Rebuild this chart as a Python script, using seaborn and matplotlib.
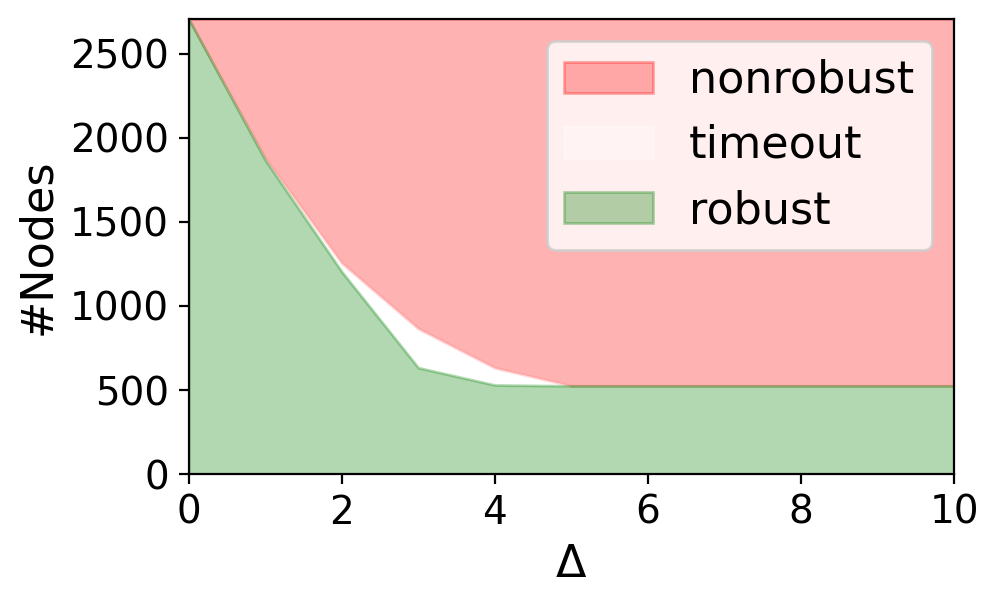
import matplotlib
matplotlib.use('Agg')
import matplotlib.pyplot as plt
import seaborn as sns
import numpy as np

# values
delta = [0, 1, 2, 3, 4, 5, 6, 7, 8, 9, 10]
robust = [2708, 1868, 1204, 633, 530, 525, 525, 525, 525, 525, 525]
timeout = [0, 12, 51, 232, 102, 0, 0, 0, 0, 0, 0]
nonrobust = [0, 828, 1453, 1843, 2076, 2183, 2183, 2183, 2183, 2183, 2183]
labels = ["robust", "timeout", "nonrobust"]
colors = ["green", "white", "red"]

sns.set_style("ticks", rc={
    "patch.force_edgecolor": False,
    "text.color": "black",
    "axes.labelcolor": "black",
    "xtick.color": "black",
    "ytick.color": "black",
    "axes.edgecolor": "black",
})
plt.rcParams["font.family"] = ["DejaVu Sans"]

fig, ax = plt.subplots(figsize=(4.99, 3.02), dpi=200)
fig.subplots_adjust(left=0.189, right=0.956, top=0.969, bottom=0.215)

polys = ax.stackplot(delta, robust, timeout, nonrobust, labels=labels,
                     colors=colors, alpha=0.3)
for z, (p, c) in enumerate(zip(polys, colors)):
    p.set_edgecolor(c)
    p.set_linewidth(1.0)
    p.set_zorder(3 - z)

ax.set_xlim(0, 10)
ax.set_ylim(0, sum(x[0] for x in (robust, timeout, nonrobust)))
ax.set_xticks([0, 2, 4, 6, 8, 10])
ax.set_yticks([0, 500, 1000, 1500, 2000, 2500])
ax.tick_params(labelsize=14, direction="out", length=3.5, width=0.8)
for s in ax.spines.values():
    s.set_linewidth(0.8)
    s.set_zorder(5)
ax.set_xlabel("Δ", fontsize=16)
ax.set_ylabel("#Nodes", fontsize=16)

h, l = ax.get_legend_handles_labels()
ax.legend(h[::-1], l[::-1], loc="upper right", fontsize=16)

fig.savefig("out.png", dpi=200)
